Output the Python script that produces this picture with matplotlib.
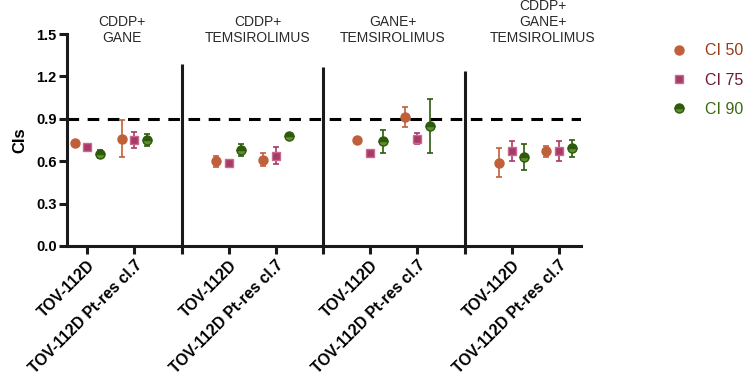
import matplotlib
matplotlib.use("Agg")
import matplotlib.pyplot as plt
import matplotlib.transforms as mtransforms
from matplotlib.lines import Line2D
import numpy as np

plt.rcParams['font.family'] = ['Liberation Sans', 'DejaVu Sans']

groups = ["CDDP+\nGANE", "CDDP+\nTEMSIROLIMUS", "GANE+\nTEMSIROLIMUS", "CDDP+\nGANE+\nTEMSIROLIMUS"]
cells = ["TOV-112D", "TOV-112D Pt-res cl.7"]
series = ["CI 50", "CI 75", "CI 90"]

# values per group: [TOV, Pt-res]
ci50 = [[0.73, 0.76], [0.60, 0.61], [0.75, 0.91], [0.59, 0.67]]
ci50_err = [[0.0, 0.13], [0.04, 0.045], [0.0, 0.07], [0.10, 0.04]]
ci75 = [[0.70, 0.75], [0.59, 0.64], [0.66, 0.76], [0.67, 0.67]]
ci75_err = [[0.0, 0.06], [0.015, 0.06], [0.0, 0.04], [0.07, 0.07]]
ci90 = [[0.65, 0.75], [0.68, 0.78], [0.74, 0.85], [0.63, 0.69]]
ci90_err = [[0.03, 0.04], [0.045, 0.01], [0.08, 0.19], [0.09, 0.06]]
divider_tops = [1.29, 1.27, 1.24]
ref_line = 0.9

fig = plt.figure(figsize=(7.5, 3.86), dpi=100)
ax = fig.add_axes([0.0893, 0.3627, 0.6854, 0.5492])

c50, c75 = '#C0603A', '#A83A68'
c90, c90alt = '#2E5A0C', '#5E8E2E'

offs = [-0.27, 0.0, 0.27]
data = [(ci50, ci50_err), (ci75, ci75_err), (ci90, ci90_err)]
styles = [dict(marker='o', color=c50, mfc=c50, mec=c50, ms=6.5),
          dict(marker='s', color=c75, mfc=c75, mec='#C86A90', ms=6),
          dict(marker='o', color=c90, mfc=c90, mec=c90, ms=6.5, fillstyle='top', markerfacecoloralt=c90alt)]

tick_pos = []
tick_lab = []
for g in range(len(groups)):
    base = g * 3 + 1
    for c in range(len(cells)):
        x = base + c
        for s in range(3):
            vals, errs = data[s]
            st = styles[s]
            ax.errorbar(x + offs[s], vals[g][c], yerr=errs[g][c] if errs[g][c] > 0 else None,
                        fmt='none', ecolor=st['color'], elinewidth=1.2, capsize=2.5, capthick=1.2, zorder=3)
            kw = dict(st)
            kw.pop('color')
            ax.plot([x + offs[s]], [vals[g][c]], linestyle='none', zorder=4, **kw)
        tick_pos.append(x)
        tick_lab.append(cells[c])
    if g < len(groups) - 1:
        tick_pos.append(base + 2)
        tick_lab.append('')
        ax.plot([base + 2, base + 2], [0, divider_tops[g]], color='#1a1a1a', lw=2.2, zorder=2,
                solid_capstyle='butt')

ax.axhline(ref_line, color='black', lw=2.2, ls=(0, (3.8, 2.8)), zorder=1)

ax.set_xlim(0.57, 11.47)
ax.set_ylim(0, 1.5)
ax.set_yticks([0.0, 0.3, 0.6, 0.9, 1.2, 1.5])
ax.set_yticklabels(['0.0', '0.3', '0.6', '0.9', '1.2', '1.5'], fontsize=10.5, fontweight='bold')
ax.set_xticks(tick_pos)
ax.set_xticklabels(tick_lab, rotation=45, ha='right', rotation_mode='anchor',
                   fontsize=11.3, fontweight='bold')
shift = mtransforms.ScaledTranslation(6 / 100, 0, fig.dpi_scale_trans)
for lab in ax.get_xticklabels():
    lab.set_transform(lab.get_transform() + shift)
for sp in ['top', 'right']:
    ax.spines[sp].set_visible(False)
for sp in ['left', 'bottom']:
    ax.spines[sp].set_linewidth(2.2)
    ax.spines[sp].set_color('#1a1a1a')
ax.tick_params(axis='both', width=2.2, length=5.5, color='#1a1a1a')
ax.tick_params(axis='y', pad=2)
ax.tick_params(axis='x', pad=3)
ax.set_ylabel('CIs', fontsize=12, fontweight='bold', labelpad=6)

title_x = [1.74, 4.62, 7.48, 10.66]
for tx, t in zip(title_x, groups):
    ax.text(tx, 1.42, t, ha='center', va='bottom', fontsize=10, color='#2a2a2a',
            linespacing=1.2, clip_on=False)

handles = [Line2D([], [], linestyle='none', **{k: v for k, v in st.items() if k != 'color'}) for st in styles]
leg = fig.legend(handles, series, loc='upper left', bbox_to_anchor=(0.876, 0.925),
                 frameon=False, fontsize=11.5, labelspacing=0.9, handletextpad=1.1,
                 handlelength=1.0, labelcolor=['#9A3A18', '#6A1A3A', '#3A6A10'])

fig.savefig('out.png', dpi=100)
